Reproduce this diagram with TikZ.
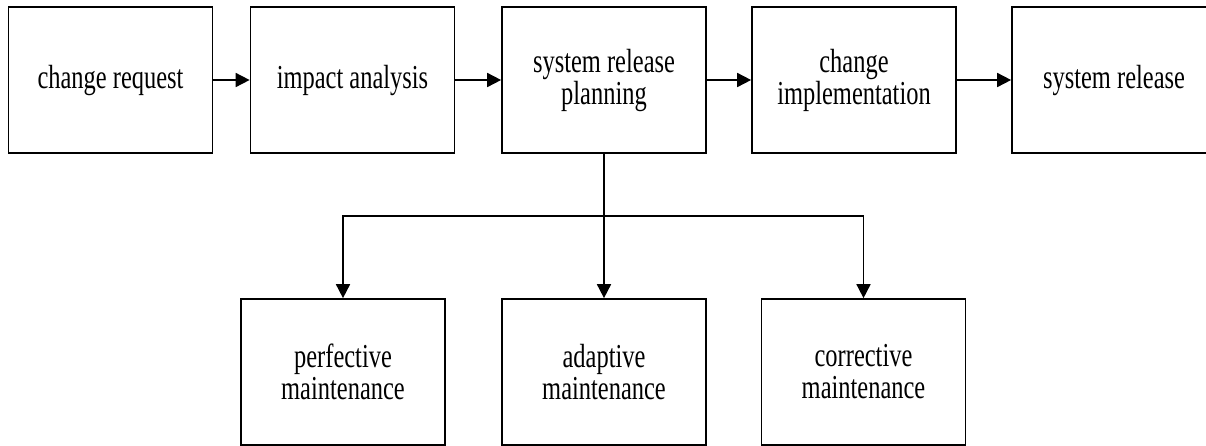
\documentclass[tikz,border=0pt]{standalone}
\usepackage{fontspec}
\setmainfont{Liberation Serif}[FakeStretch=0.73]
\usetikzlibrary{arrows.meta}
\begin{document}
\begin{tikzpicture}[x=1pt,y=-1pt,
  box/.style={draw,line width=1.7pt,minimum width=204pt,minimum height=146pt,inner sep=0pt,align=center,font=\fontsize{33.5}{32}\selectfont},
  arr/.style={line width=1.7pt,-{Triangle[length=14pt,width=14pt]}}]
\useasboundingbox (0,0) rectangle (1206,445);
\clip (0,0) rectangle (1206,445);
\node[box] (cr) at (110.5,80) {change request};
\node[box] (ia) at (352.5,80) {impact analysis};
\node[box] (srp) at (604,80) {system release\\planning};
\node[box] (ci) at (854,80) {change\\implementation};
\node[box] (sr) at (1114,80) {system release};
\node[box] (pm) at (343,372) {perfective\\maintenance};
\node[box] (am) at (604,372) {adaptive\\maintenance};
\node[box] (cm) at (863.5,372) {corrective\\maintenance};
\coordinate (j) at (604,216);
\draw[arr] (cr) -- (ia);
\draw[arr] (ia) -- (srp);
\draw[arr] (srp) -- (ci);
\draw[arr] (ci) -- (sr);
\draw[arr] (srp.south) -- (am.north);
\draw[arr] (j) -| (pm.north);
\draw[arr] (j) -| (cm.north);
\end{tikzpicture}
\end{document}
